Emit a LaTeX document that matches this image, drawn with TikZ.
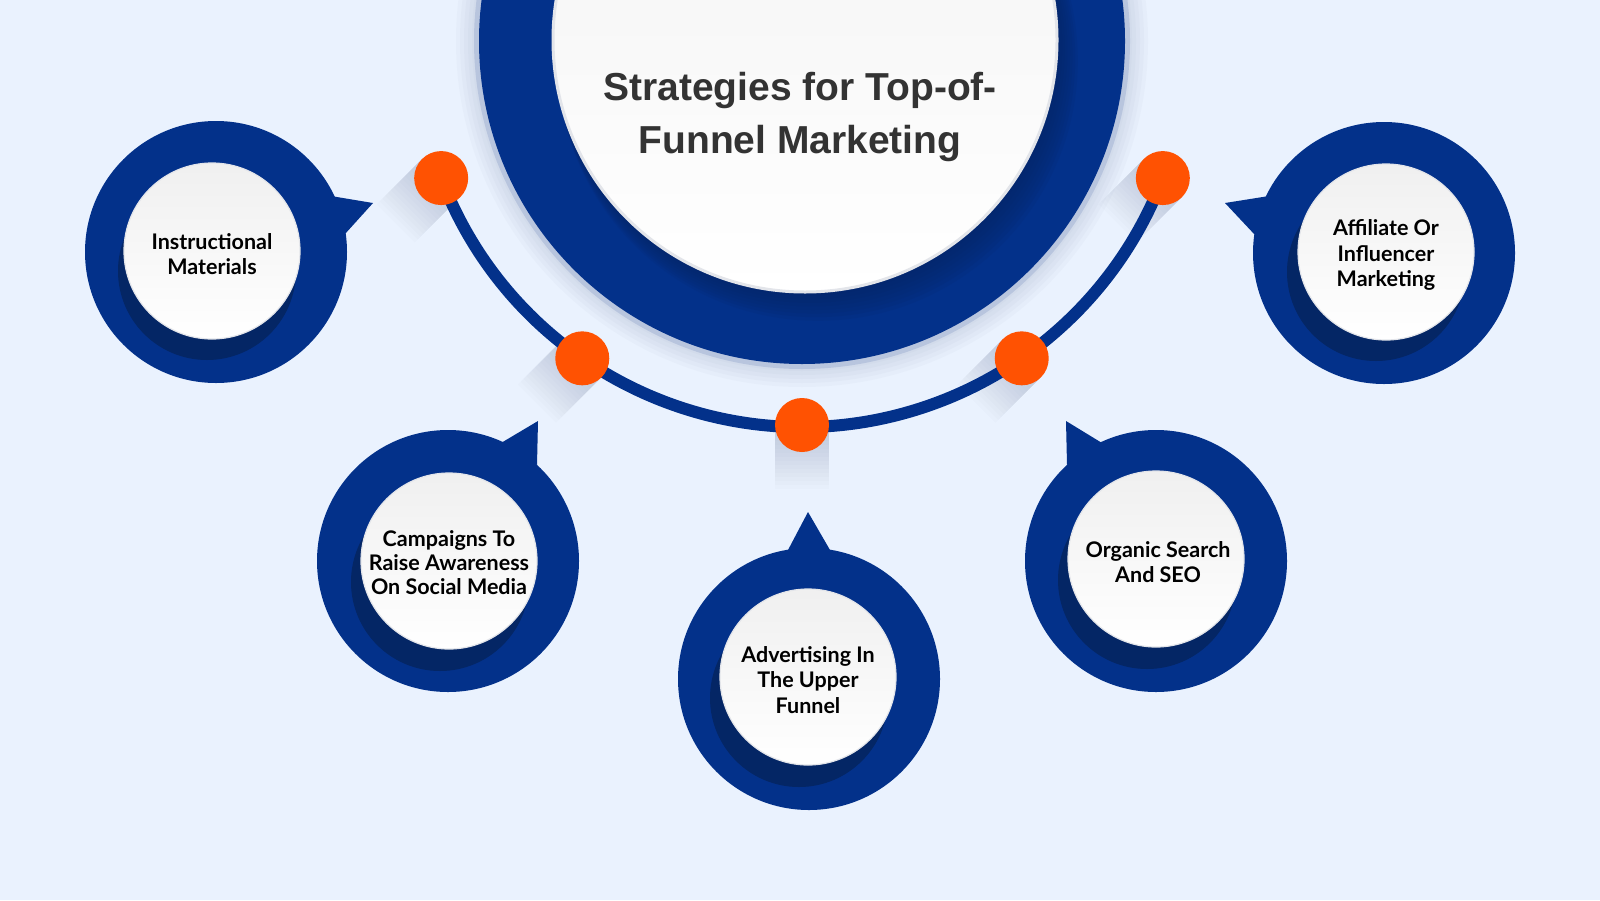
\documentclass[tikz,border=0pt]{standalone}
\usepackage{fontspec}
\setmainfont{Lato}
\newfontfamily\titlefont{Liberation Sans}
\usetikzlibrary{calc}
\definecolor{bg}{HTML}{EAF2FE}
\definecolor{navy}{HTML}{03318A}
\definecolor{navydark}{HTML}{042665}
\definecolor{orng}{HTML}{FF5202}
\definecolor{ttl}{HTML}{333333}
\definecolor{shd}{HTML}{8C98B4}
\definecolor{rim}{HTML}{E3E5EA}
\tikzset{
  outerc/.style={circle, fill=navy, minimum size=262pt, inner sep=0pt},
  shadowc/.style={circle, fill=navydark, minimum size=178pt, inner sep=0pt},
  innerc/.style={circle, top color=white!94!black, bottom color=white, draw=rim, line width=1.2pt,
    minimum size=176pt, inner sep=0pt, align=center, text=black,
    font=\bfseries\fontsize{21.5}{24.5}\selectfont},
  tail/.style={fill=navy},
  dotc/.style={circle, fill=orng, minimum size=54pt, inner sep=0pt},
  arcline/.style={draw=navy, line width=12pt},
  ttlnode/.style={text=ttl, font=\titlefont\bfseries\fontsize{39}{53}\selectfont, anchor=base, inner sep=0pt},
  dshadow/.style={fill=shd, opacity=0.032},
  ringshadow/.style={fill=navydark, opacity=0.13},
}
\begin{document}
\begin{tikzpicture}[x=1pt,y=-1pt]
\useasboundingbox (0,0) rectangle (1600,900);
\clip (0,0) rectangle (1600,900);
\fill[bg] (0,0) rectangle (1600,900);

% ---------- central ring ----------
\coordinate (C) at (802,41);
\foreach \r in {346,342,338,334,330} \fill[shd, opacity=0.05] (C) circle[radius=\r];
\fill[white!72!navy] (C) circle[radius=328];
\node[circle, fill=navy, minimum size=646pt, inner sep=0pt] (ring) at (C) {};
\foreach \k in {1,...,8} \fill[ringshadow] ($(805,40)+(1.6*\k,2.6*\k)$) circle[radius=252+\k];
\node[circle, top color=white!95!black, bottom color=white, draw=rim, line width=3pt,
      minimum size=504pt, inner sep=0pt] (core) at (805,40) {};
\node[ttlnode] (t1) at (800,100) {Strategies for Top-of-};
\node[ttlnode] (t2) at (800,153) {Funnel Marketing};

% ---------- dots positions ----------
\coordinate (d1) at ($(C)+(159.2:386)$);
\coordinate (d2) at ($(C)+(124.7:386)$);
\coordinate (d3) at ($(C)+(90:384)$);
\coordinate (d4) at ($(C)+(55.3:386)$);
\coordinate (d5) at ($(C)+(20.8:386)$);

% dot shadows (long shadows)
\foreach \p in {d1,d2,d4,d5}{
  \foreach \L in {4,8,...,64}{
    \fill[dshadow] ($(\p)+(19,19)$) -- ($(\p)+(-19,-19)$) -- ($(\p)+(-19,-19)+(-0.707*\L,0.707*\L)$)
      -- ($(\p)+(19,19)+(-0.707*\L,0.707*\L)$) -- cycle;
  }
}
\foreach \L in {4,8,...,64}{
  \fill[dshadow] ($(d3)+(-27,0)$) rectangle ($(d3)+(27,\L)$);
}

% connecting arc
\draw[arcline] (d1) arc[start angle=159.2, end angle=20.8, radius=386];

\foreach \p/\n in {d1/o1,d2/o2,d3/o3,d4/o4,d5/o5} \node[dotc] (dot\n) at (\p) {};

% ---------- balloons ----------
% 1 Instructional Materials
\fill[tail] (373,203) -- (331,196) -- (345,234) -- cycle;
\node[outerc] (b1) at (216,252) {};
\node[shadowc] (s1) at (207,271) {};
\node[innerc] (l1) at (212,251) {};
\node[align=center, font=\bfseries\fontsize{21.5}{24.5}\selectfont] (x1) at (212,254) {Instructional\\Materials};

% 2 Campaigns
\fill[tail] (538,421) -- (501,443) -- (537,465) -- cycle;
\node[outerc] (b2) at (448,561) {};
\node[shadowc] (s2) at (440,582) {};
\node[innerc] (l2) at (449,561) {};
\node[align=center, font=\bfseries\fontsize{21.5}{24}\selectfont] (x2) at (449,563) {Campaigns To\\Raise Awareness\\On Social Media};

% 3 Advertising
\fill[tail] (808,512) -- (788,550) -- (830,550) -- cycle;
\node[outerc] (b3) at (809,679) {};
\node[shadowc] (s3) at (799,698) {};
\node[innerc] (l3) at (808,677) {};
\node[align=center, font=\bfseries\fontsize{21.5}{25.5}\selectfont] (x3) at (808,680) {Advertising In\\The Upper\\Funnel};

% 4 Organic Search
\fill[tail] (1066,421) -- (1102,443) -- (1067,465) -- cycle;
\node[outerc] (b4) at (1156,561) {};
\node[shadowc] (s4) at (1147,580) {};
\node[innerc] (l4) at (1156,559) {};
\node[align=center, font=\bfseries\fontsize{21.5}{25.5}\selectfont] (x4) at (1158,562) {Organic Search\\And SEO};

% 5 Affiliate
\fill[tail] (1225,203) -- (1269,196) -- (1255,235) -- cycle;
\node[outerc] (b5) at (1384,253) {};
\node[shadowc] (s5) at (1376,272) {};
\node[innerc] (l5) at (1386,252) {};
\node[align=center, font=\bfseries\fontsize{21.5}{25.5}\selectfont] (x5) at (1386,255) {Affiliate Or\\Influencer\\Marketing};
\end{tikzpicture}
\end{document}
